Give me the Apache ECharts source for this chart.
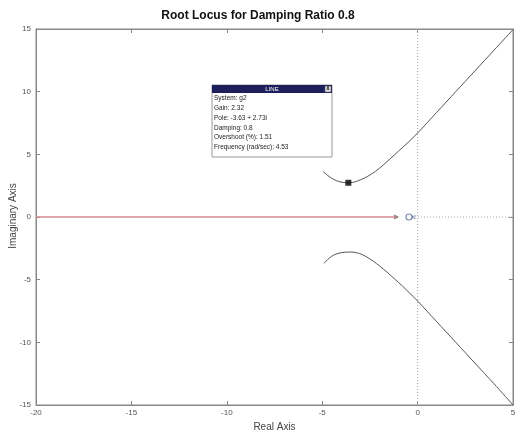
<!DOCTYPE html>
<html><head><meta charset="utf-8">
<script src="https://cdn.jsdelivr.net/npm/echarts@6/dist/echarts.min.js"></script>
<style>html,body{margin:0;padding:0;background:#fff}#c{width:516px;height:435px}</style>
</head><body><div id="c"></div>
<script>
const titleText = 'Root Locus for Damping Ratio 0.8';
const xAxisName = 'Real Axis';
const yAxisName = 'Imaginary Axis';
const xTicks = [-20, -15, -10, -5, 0, 5];
const yTicks = [-15, -10, -5, 0, 5, 10, 15];
// upper branch (real, imag)
const upperX = [-4.95, -4.7, -4.4, -4.1, -3.8, -3.63, -3.4, -3.1, -2.8, -2.5, -2.2, -1.8, -1.4, -1.0, -0.5, 0, 1, 2, 3, 4, 5];
const upperY = [3.62, 3.3, 3.0, 2.82, 2.74, 2.73, 2.76, 2.9, 3.1, 3.35, 3.65, 4.15, 4.7, 5.25, 5.95, 6.7, 8.35, 10.0, 11.65, 13.3, 14.95];
const lowerX = [-4.9, -4.65, -4.35, -4.0, -3.7, -3.45, -3.2, -2.9, -2.6, -2.3, -2.0, -1.6, -1.2, -0.8, -0.4, 0, 1, 2, 3, 4, 5];
const lowerY = [-3.7, -3.3, -3.0, -2.85, -2.8, -2.8, -2.85, -3.0, -3.25, -3.55, -3.9, -4.4, -4.95, -5.5, -6.1, -6.7, -8.35, -10.0, -11.65, -13.3, -15.0];
const realBranchX = [-20, -1.1];
const zeroX = -0.45;
const poleX = -0.22;
const selectedPole = [-3.63, 2.73];
const tipLines = ['System: g2', 'Gain: 2.32', 'Pole: -3.63 + 2.73i', 'Damping: 0.8', 'Overshoot (%): 1.51', 'Frequency (rad/sec): 4.53'];

const zip = (a, b) => a.map((v, i) => [v, b[i]]);
const chart = echarts.init(document.getElementById('c'));
const axisCommon = {
  axisLine: {show: true, onZero: false, lineStyle: {color: '#888', width: 1}},
  axisTick: {show: true, inside: true, length: 4, lineStyle: {color: '#888'}},
  splitLine: {show: false}
};
const tipTexts = tipLines.map((t, i) => ({
  type: 'text', left: 214, top: 95 + i * 9.8,
  style: {text: t, fill: '#222', font: '6.5px "Liberation Sans", Arial, sans-serif'}
}));
chart.setOption({
  animation: false,
  title: {text: titleText, left: 'center', top: 10, padding: 0, textStyle: {fontFamily: '"Liberation Sans", Arial', fontSize: 12, fontWeight: 'bold', color: '#111'}},
  grid: {left: 36, right: 3, top: 29, bottom: 30, show: true, borderColor: '#888', borderWidth: 1, containLabel: false, outerBoundsMode: 'none'},
  xAxis: [
    Object.assign({type: 'value', min: -20, max: 5, interval: 5, position: 'bottom',
      name: xAxisName, nameLocation: 'middle', nameGap: 17,
      nameTextStyle: {fontFamily: '"Liberation Sans", Arial', fontSize: 10, color: '#444'},
      axisLabel: {fontSize: 8, color: '#555', margin: 4, fontFamily: '"Liberation Sans", Arial'}}, axisCommon),
    Object.assign({type: 'value', min: -20, max: 5, interval: 5, position: 'top', axisLabel: {show: false}}, axisCommon)
  ],
  yAxis: [
    Object.assign({type: 'value', min: -15, max: 15, interval: 5, position: 'left',
      axisLabel: {fontSize: 8, color: '#555', margin: 5, fontFamily: '"Liberation Sans", Arial'}}, axisCommon),
    Object.assign({type: 'value', min: -15, max: 15, interval: 5, position: 'right', axisLabel: {show: false}}, axisCommon)
  ],
  series: [
    {type: 'line', data: [[0, -15], [0, 15]], symbol: 'none', lineStyle: {color: '#aaa', width: 1, type: [1, 2]}, z: 1},
    {type: 'line', data: [[zeroX, 0], [5, 0]], symbol: 'none', lineStyle: {color: '#aaa', width: 1, type: [1, 2]}, z: 1},
    {type: 'line', data: zip(upperX, upperY), symbol: 'none', smooth: 0.3, lineStyle: {color: '#555', width: 1}},
    {type: 'line', data: zip(lowerX, lowerY), symbol: 'none', smooth: 0.3, lineStyle: {color: '#555', width: 1}},
    {type: 'line', data: realBranchX.map(x => [x, 0]), symbol: 'none', lineStyle: {color: '#d88a90', width: 1.5}},
    {type: 'scatter', data: [[realBranchX[1], 0]], symbol: 'triangle', symbolRotate: -90, symbolSize: 5, itemStyle: {color: '#555'}},
    {type: 'scatter', data: [[zeroX, 0]], symbol: 'circle', symbolSize: 6, itemStyle: {color: '#fff', borderColor: '#5a6f9a', borderWidth: 1.2}},
    {type: 'scatter', data: [[poleX, 0]], symbol: 'path://M0,0L10,10M10,0L0,10', symbolSize: 4, itemStyle: {color: 'none', borderColor: '#5a6f9a', borderWidth: 1}},
    {type: 'scatter', data: [selectedPole], symbol: 'rect', symbolSize: 6, itemStyle: {color: '#000'}, z: 5}
  ],
  graphic: [
    {type: 'text', x: 13, y: 216, rotation: Math.PI / 2, style: {text: yAxisName, fill: '#444', font: '10px "Liberation Sans", Arial', textAlign: 'center', textVerticalAlign: 'middle'}},
    {type: 'rect', shape: {x: 212, y: 85, width: 120, height: 72}, style: {fill: '#fff', stroke: '#999', lineWidth: 1}, z: 10},
    {type: 'rect', shape: {x: 212, y: 85, width: 120, height: 8}, style: {fill: '#1c1f5c'}, z: 11},
    {type: 'text', x: 272, y: 86, style: {text: 'LINE', fill: '#fff', font: '6px "Liberation Sans", Arial', textAlign: 'center'}, z: 12},
    {type: 'rect', shape: {x: 325, y: 86, width: 6, height: 6}, style: {fill: '#ddd', stroke: '#666', lineWidth: 0.5}, z: 12},
    {type: 'text', x: 328, y: 86.5, style: {text: 'X', fill: '#000', font: 'bold 5px "Liberation Sans", Arial', textAlign: 'center'}, z: 13}
  ].concat(tipTexts.map(t => Object.assign(t, {z: 12})))
});
</script></body></html>
